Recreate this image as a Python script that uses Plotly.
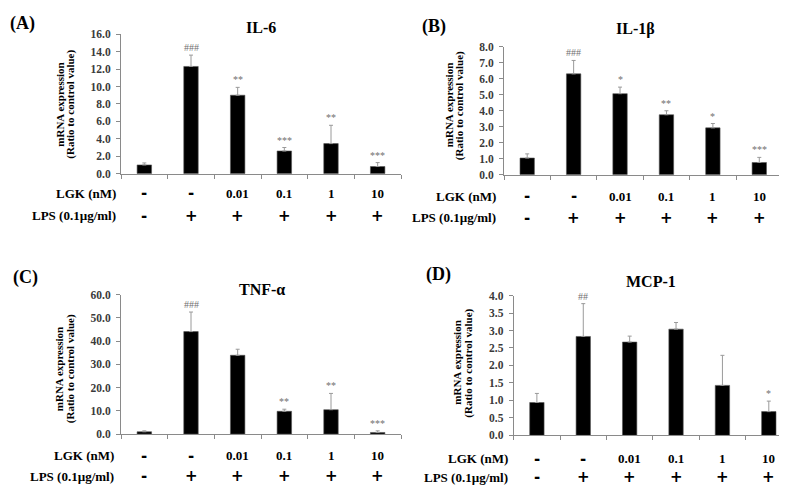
import plotly.graph_objects as go

W, H = 787, 487

# ---- data ----
lgk_labels = ["-", "-", "0.01", "0.1", "1", "10"]
lps_labels = ["-", "+", "+", "+", "+", "+"]

il6_mean = [1.0, 12.3, 9.0, 2.6, 3.45, 0.82]
il6_err = [0.23, 1.3, 0.9, 0.4, 2.1, 0.45]
il6_sig = ["", "###", "**", "***", "**", "***"]

il1b_mean = [1.04, 6.31, 5.07, 3.75, 2.93, 0.76]
il1b_err = [0.26, 0.84, 0.41, 0.25, 0.27, 0.32]
il1b_sig = ["", "###", "*", "**", "*", "***"]

tnf_mean = [1.0, 44.1, 33.9, 9.8, 10.5, 0.7]
tnf_err = [0.4, 8.4, 2.6, 0.9, 7.0, 0.7]
tnf_sig = ["", "###", "", "**", "**", "***"]

mcp1_mean = [0.94, 2.83, 2.67, 3.04, 1.43, 0.68]
mcp1_err = [0.26, 0.94, 0.17, 0.19, 0.86, 0.30]
mcp1_sig = ["", "##", "", "", "", "*"]

titles = ["IL-6", "IL-1β", "TNF-α", "MCP-1"]
letters = ["(A)", "(B)", "(C)", "(D)"]
ymax = [16, 8, 60, 4]
dticks = [2, 1, 10, 0.5]

# ---- layout geometry (pixels) ----
panels = [
    dict(x0=113, x1=393, y0=20.7, y1=163.7, title=(252.7, 14), letter=(14, 10),
         ytitle=(57.5, 93), lgk_y=184, lps_y=207, lab_x=110),
    dict(x0=496, x1=774.5, y0=33.7, y1=164.7, title=(627, 15), letter=(426, 12.5),
         ytitle=(446, 94), lgk_y=187, lps_y=209, lab_x=490),
    dict(x0=113, x1=393, y0=287.7, y1=430.7, title=(254, 282.7), letter=(17.5, 270.5),
         ytitle=(56.7, 364), lgk_y=453, lps_y=474, lab_x=108),
    dict(x0=505.7, x1=784, y0=288.7, y1=432, title=(642.5, 274.3), letter=(430, 267.5),
         ytitle=(455, 358), lgk_y=456, lps_y=475, lab_x=501.7),
]

means = [il6_mean, il1b_mean, tnf_mean, mcp1_mean]
errs = [il6_err, il1b_err, tnf_err, mcp1_err]
sigs = [il6_sig, il1b_sig, tnf_sig, mcp1_sig]

SERIF = "Liberation Serif, Times New Roman, serif"
SYM = "DejaVu Sans"
AXC = "#8a8a8a"
TICKC = "#3a3a3a"

def px(x):
    return x / W

def py(y):
    return 1 - y / H

fig = go.Figure()
annotations = []
layout_axes = {}

for k in range(4):
    p = panels[k]
    sx = "" if k == 0 else str(k + 1)
    xs = list(range(6))
    fig.add_trace(go.Bar(
        x=xs, y=means[k], width=0.31,
        marker=dict(color="black", line=dict(width=0.6, color="#555")),
        error_y=dict(type="data", symmetric=False, array=errs[k],
                     arrayminus=[0] * 6, color="#9a9a9a", thickness=1, width=2),
        xaxis="x" + sx, yaxis="y" + sx, showlegend=False, hoverinfo="skip",
    ))
    layout_axes["xaxis" + sx] = dict(
        domain=[px(p["x0"]), px(p["x1"])], range=[-0.5, 5.5], anchor="y" + sx,
        showgrid=False, zeroline=False, showline=True, linecolor=AXC, linewidth=1,
        tickmode="array", tickvals=[i - 0.5 for i in range(7)], ticks="outside",
        ticklen=4, tickcolor=AXC, showticklabels=False, fixedrange=True,
    )
    layout_axes["yaxis" + sx] = dict(
        domain=[py(p["y1"]), py(p["y0"])], range=[0, ymax[k]], anchor="x" + sx,
        showgrid=False, zeroline=False, showline=True, linecolor=AXC, linewidth=1,
        dtick=dticks[k], tick0=0, tickformat=".1f", ticks="outside", ticklen=4,
        tickcolor=AXC, ticklabelstandoff=3,
        tickfont=dict(family=SERIF, size=11.5, color=TICKC, weight="bold"),
        fixedrange=True,
    )
    # titles
    annotations.append(dict(text=titles[k], x=px(p["title"][0]), y=py(p["title"][1]),
                            xref="paper", yref="paper", showarrow=False,
                            xanchor="center", yanchor="middle",
                            font=dict(family=SERIF, size=16, color="black", weight="bold")))
    annotations.append(dict(text=letters[k], x=px(p["letter"][0]), y=py(p["letter"][1]),
                            xref="paper", yref="paper", showarrow=False,
                            xanchor="center", yanchor="middle",
                            font=dict(family=SERIF, size=18, color="black", weight="bold")))
    # y title (two lines)
    cx, cy = p["ytitle"]
    for j, line in enumerate(["mRNA expression", "(Ratio to control value)"]):
        annotations.append(dict(text=line, x=px(cx - 5.5 + 11 * j), y=py(cy),
                                xref="paper", yref="paper", showarrow=False,
                                textangle=-90, xanchor="center", yanchor="middle",
                                font=dict(family=SERIF, size=11, color="black", weight="bold")))
    # significance markers
    for i in range(6):
        if sigs[k][i]:
            annotations.append(dict(text=sigs[k][i], x=i, y=means[k][i] + errs[k][i],
                                    xref="x" + sx, yref="y" + sx, showarrow=False,
                                    xanchor="center", yanchor="bottom", yshift=0,
                                    font=dict(family=SERIF, size=10, color="#707070")))
    # treatment rows
    for row_label, row_vals, ry in (("LGK (nM)", lgk_labels, p["lgk_y"]),
                                    ("LPS (0.1µg/ml)", lps_labels, p["lps_y"])):
        annotations.append(dict(text=row_label, x=px(p["lab_x"]), y=py(ry),
                                xref="paper", yref="paper", showarrow=False,
                                xanchor="right", yanchor="middle",
                                font=dict(family=SERIF, size=13, color="black", weight="bold")))
        for i, v in enumerate(row_vals):
            if v in ("-", "+"):
                fnt = dict(family=SYM, size=15, color="black", weight="bold")
            else:
                fnt = dict(family=SERIF, size=13, color="black", weight="bold")
            annotations.append(dict(text=v, x=i, y=py(ry),
                                    xref="x" + sx, yref="paper", showarrow=False,
                                    xanchor="center", yanchor="middle", borderpad=0,
                                    font=fnt))

fig.update_layout(
    width=W, height=H, margin=dict(l=0, r=0, t=0, b=0),
    paper_bgcolor="white", plot_bgcolor="white",
    annotations=annotations, **layout_axes,
)

fig.write_html("out.html")
